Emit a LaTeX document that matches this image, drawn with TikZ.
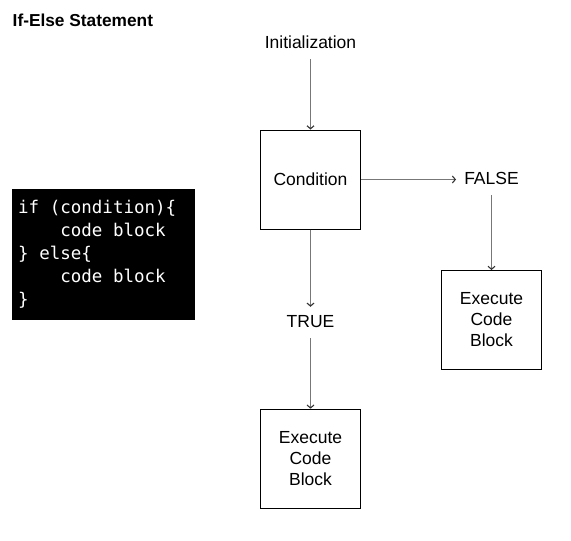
\documentclass[tikz,border=0pt]{standalone}
\usepackage{fontspec}
\setmainfont{Liberation Sans}
\newfontfamily\codefont{DejaVu Sans Mono}
\newcommand{\codesp}{\phantom{x}}
\usetikzlibrary{arrows.meta,positioning}
\definecolor{linegray}{HTML}{777777}

\begin{document}
\begin{tikzpicture}[x=1pt,y=-1pt,
    box/.style={draw=black,line width=1pt,minimum width=100pt,minimum height=99pt,align=center,font=\fontsize{17.5}{21}\selectfont},
    lbl/.style={inner sep=8pt,text height=12pt,text depth=3pt,font=\fontsize{17.5}{21}\selectfont},
    flow/.style={draw=linegray,line width=1.1pt,-{Straight Barb[length=3pt,width=7pt,color=black!80]}}]
    \useasboundingbox (0,0) rectangle (571,541);
    \node[anchor=base west,inner sep=0pt,font=\bfseries\fontsize{17.3}{20}\selectfont] (title) at (12.5,26) {If-Else Statement};
    \node[fill=black,text=white,anchor=north west,inner xsep=6pt,inner ysep=0pt,text width=171pt,minimum height=131pt,align=left,
        font=\codefont\fontsize{17.5}{23}\selectfont] (code) at (12,189)
        {if\codesp(condition)\{\\\codesp\codesp\codesp\codesp code\codesp block\\\}\codesp else\{\\\codesp\codesp\codesp\codesp code\codesp block\\\}};
    \node[lbl,anchor=base] (init) at (310.5,48) {Initialization};
    \node[box] (cond) at (310.5,179.5) {Condition};
    \node[lbl,anchor=base] (false) at (491.5,184) {FALSE};
    \node[box] (exright) at (491.5,320) {Execute\\Code\\Block};
    \node[lbl,anchor=base] (true) at (310.5,327) {TRUE};
    \node[box] (exbottom) at (310.5,458.7) {Execute\\Code\\Block};
    \draw[flow] (init) -- (cond);
    \draw[flow] (cond) -- (false);
    \draw[flow] (false) -- (exright);
    \draw[flow] (cond) -- (true);
    \draw[flow] (true) -- (exbottom);
\end{tikzpicture}
\end{document}
